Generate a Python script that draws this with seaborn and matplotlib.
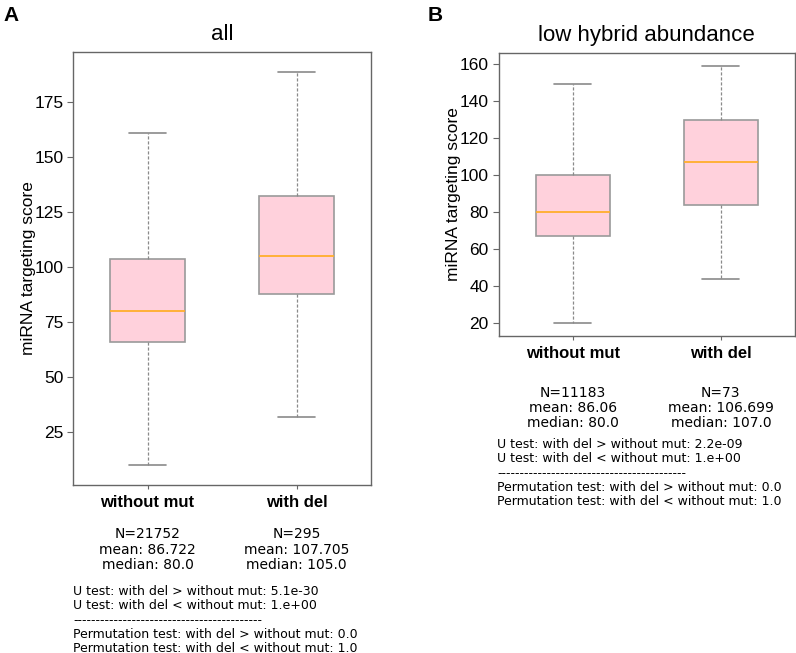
import numpy as np
import pandas as pd
import matplotlib
matplotlib.use("Agg")
import matplotlib.pyplot as plt
import matplotlib.transforms as mtrans
import seaborn as sns

# ---- data (five-number summaries) ----
groups = ["without mut", "with del"]

# panel A: all
a_low = [10, 32]
a_q1 = [66, 88]
a_med = [80, 105]
a_q3 = [104, 132.5]
a_high = [161, 189]
a_n = [21752, 295]
a_mean = ["86.722", "107.705"]
a_median_txt = ["80.0", "105.0"]
a_u = ["5.1e-30", "1.e+00"]
a_perm = ["0.0", "1.0"]

# panel B: low hybrid abundance
b_low = [20, 44]
b_q1 = [67, 84]
b_med = [80, 107]
b_q3 = [100, 130]
b_high = [149, 159]
b_n = [11183, 73]
b_mean = ["86.06", "106.699"]
b_median_txt = ["80.0", "107.0"]
b_u = ["2.2e-09", "1.e+00"]
b_perm = ["0.0", "1.0"]

W, H = 796, 653


def build_df(low, q1, med, q3, high):
    rows = []
    for i, g in enumerate(groups):
        for v in (low[i], q1[i], med[i], q3[i], high[i]):
            rows.append({"group": g, "score": v})
    return pd.DataFrame(rows)


sns.set_style("white")
plt.rcParams["font.family"] = ["Liberation Sans", "DejaVu Sans"]
plt.rcParams["text.color"] = "black"
plt.rcParams["axes.labelcolor"] = "black"

fig = plt.figure(figsize=(W / 100, H / 100), dpi=100)


def px_axes(l, t, r, b):
    return fig.add_axes([l / W, 1 - b / H, (r - l) / W, (b - t) / H])


def draw_panel(ax, df, title, yticks):
    sns.boxplot(data=df, x="group", y="score", order=groups, ax=ax,
                width=0.5, whis=np.inf, fill=True, linewidth=1.2,
                boxprops=dict(facecolor="#FFD1DC", edgecolor="#9a9a9a"),
                whiskerprops=dict(color="#8a8a8a", linestyle=(0, (2.5, 1.5)), linewidth=0.9),
                capprops=dict(color="#8a8a8a", linewidth=1.2),
                medianprops=dict(color="#FFAE2B", linewidth=1.3),
                showfliers=False)
    ax.set_xlim(-0.5, 1.5)
    ax.set_yticks(yticks)
    ax.set_xlabel("")
    ax.set_ylabel("miRNA targeting score", fontsize=12.5, labelpad=-1)
    ax.set_title(title, fontsize=16, pad=9)
    ax.tick_params(axis="y", labelsize=12.5, length=4, color="#666666", labelcolor="black",
                   direction="out", left=True, pad=3)
    ax.tick_params(axis="x", labelsize=12, length=3, color="#666666", labelcolor="black",
                   direction="out", bottom=True, pad=4)
    for lab in ax.get_xticklabels():
        lab.set_fontweight("bold")
    for sp in ax.spines.values():
        sp.set_color("#666666")
        sp.set_linewidth(1.0)


def stats_text(ax, n, mean, med, u, perm, y_stat, ls_stat, x_left, y_u):
    tr = mtrans.blended_transform_factory(ax.transData, fig.transFigure)
    for i in range(len(groups)):
        ax.text(i, 1 - y_stat / H, f"N={n[i]}\nmean: {mean[i]}\nmedian: {med[i]}",
                transform=tr, ha="center", va="top", fontsize=10,
                family="DejaVu Sans", linespacing=ls_stat)
    lines = [f"U test: with del > without mut: {u[0]}",
             f"U test: with del < without mut: {u[1]}",
             "-" * 42,
             f"Permutation test: with del > without mut: {perm[0]}",
             f"Permutation test: with del < without mut: {perm[1]}"]
    fig.text(x_left / W, 1 - y_u / H, "\n".join(lines), ha="left", va="top",
             fontsize=9, family="DejaVu Sans", linespacing=1.13)


axA = px_axes(73, 52, 371, 485)
draw_panel(axA, build_df(a_low, a_q1, a_med, a_q3, a_high), "all",
           [25, 50, 75, 100, 125, 150, 175])
stats_text(axA, a_n, a_mean, a_median_txt, a_u, a_perm, 527, 1.15, 73, 585)

axB = px_axes(498.5, 53, 795, 336)
draw_panel(axB, build_df(b_low, b_q1, b_med, b_q3, b_high), "low hybrid abundance",
           [20, 40, 60, 80, 100, 120, 140, 160])
stats_text(axB, b_n, b_mean, b_median_txt, b_u, b_perm, 386, 1.08, 497, 438)

fig.text(3 / W, 1 - 6 / H, "A", fontsize=15, fontweight="bold", va="top", ha="left")
fig.text(428 / W, 1 - 6 / H, "B", fontsize=15, fontweight="bold", va="top", ha="left")

fig.savefig("out.png", dpi=100)
